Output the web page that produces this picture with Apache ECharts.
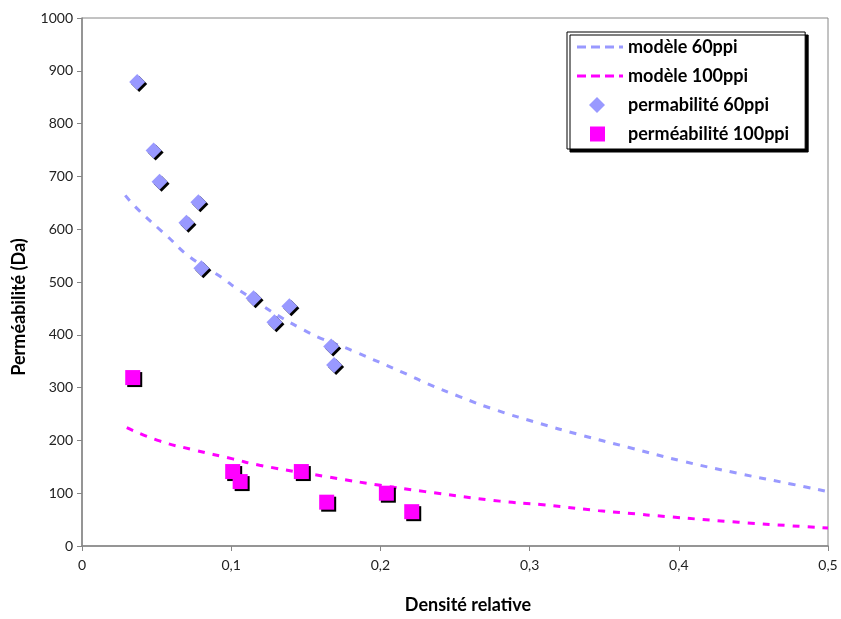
<!DOCTYPE html>
<html>
<head>
<meta charset="utf-8">
<script src="https://cdn.jsdelivr.net/npm/echarts@6/dist/echarts.min.js"></script>
<style>html,body{margin:0;padding:0;background:#fff}#c{width:841px;height:619px}</style>
</head>
<body>
<div id="c"></div>
<script>
var seriesNames = ['modèle 60ppi', 'modèle 100ppi', 'permabilité 60ppi', 'perméabilité 100ppi'];

var model60X = [0.029, 0.038, 0.057, 0.072, 0.094, 0.104, 0.148, 0.182, 0.218, 0.231, 0.253, 0.277, 0.307, 0.332, 0.366, 0.402, 0.439, 0.476, 0.5];
var model60Y = [664, 636, 587, 548, 508, 487, 410, 369, 325, 308, 283, 258, 232, 212, 187, 161, 138, 117, 103];

var model100X = [0.03, 0.052, 0.075, 0.101, 0.119, 0.171, 0.2, 0.23, 0.28, 0.309, 0.346, 0.366, 0.391, 0.44, 0.5];
var model100Y = [224, 199, 182, 165, 153, 128, 115, 103, 85, 78, 67, 62, 56, 45, 34];

var perm60X = [0.037, 0.048, 0.052, 0.078, 0.070, 0.080, 0.115, 0.139, 0.129, 0.167, 0.169];
var perm60Y = [879, 749, 690, 651, 612, 526, 469, 454, 424, 378, 343];

var perm100X = [0.034, 0.101, 0.106, 0.147, 0.164, 0.204, 0.221];
var perm100Y = [319, 141, 122, 141, 83, 100, 65];

var xTicks = [0, 0.1, 0.2, 0.3, 0.4, 0.5];
var yTicks = [0, 100, 200, 300, 400, 500, 600, 700, 800, 900, 1000];

function pairs(xs, ys) { return xs.map(function (x, i) { return [x, ys[i]]; }); }

var FONT = 'Lato, "Open Sans", sans-serif';
var chart = echarts.init(document.getElementById('c'), null, { renderer: 'canvas' });
var shadow = { opacity: 1, shadowColor: '#000', shadowOffsetX: 2, shadowOffsetY: 2, shadowBlur: 0 };

// legend icons (icon box 46 x 17)
var dashIcon = 'path://M0,0M46,17M0,7h9v3h-9zM14,7h9v3h-9zM28,7h9v3h-9zM42,7h4v3h-4z';
var diamondIcon = 'path://M0,0M46,17M20,0.5L28,8.5L20,16.5L12,8.5z';
var squareIcon = 'path://M0,0M46,17M13,1h15v15h-15z';

chart.setOption({
  animation: false,
  backgroundColor: '#fff',
  textStyle: { fontFamily: FONT },
  grid: { left: 82, right: 13, top: 18, bottom: 72, show: true, borderColor: '#868686', borderWidth: 1 },
  legend: {
    data: [
      { name: seriesNames[0], icon: dashIcon, itemStyle: { color: '#9999FF' } },
      { name: seriesNames[1], icon: dashIcon, itemStyle: { color: '#FF00FF' } },
      { name: seriesNames[2], icon: diamondIcon, itemStyle: { color: '#9999FF', opacity: 1, shadowBlur: 0, shadowOffsetX: 0, shadowOffsetY: 0 } },
      { name: seriesNames[3], icon: squareIcon, itemStyle: { color: '#FF00FF', opacity: 1, shadowBlur: 0, shadowOffsetX: 0, shadowOffsetY: 0 } }
    ],
    orient: 'vertical',
    left: 567, top: 32,
    padding: [6, 16, 6, 10],
    itemGap: 11,
    itemWidth: 46, itemHeight: 17,
    backgroundColor: '#fff',
    borderColor: '#000', borderWidth: 1,
    shadowColor: '#000', shadowOffsetX: 3, shadowOffsetY: 3, shadowBlur: 0.01,
    textStyle: { fontFamily: FONT, fontWeight: 'bold', fontSize: 18, color: '#000' }
  },
  xAxis: {
    type: 'value', min: 0, max: 0.5, interval: 0.1,
    name: 'Densité relative', nameLocation: 'middle', nameGap: 50,
    nameTextStyle: { fontFamily: FONT, fontWeight: 'bold', fontSize: 18, color: '#000', padding: [0, 0, 0, 26] },
    axisLine: { lineStyle: { color: '#868686', width: 1.5 } },
    axisTick: { show: true, length: 5, lineStyle: { color: '#868686' } },
    axisLabel: { fontSize: 14, color: '#222', margin: 12, formatter: function (v) { return String(v).replace('.', ','); } },
    splitLine: { show: false }
  },
  yAxis: {
    type: 'value', min: 0, max: 1000, interval: 100,
    name: 'Perméabilité (Da)', nameLocation: 'middle', nameGap: 54, nameRotate: 90,
    nameTextStyle: { fontFamily: FONT, fontWeight: 'bold', fontSize: 18, color: '#000', padding: [0, 50, 0, 0] },
    axisLine: { show: true, lineStyle: { color: '#868686', width: 1.5 } },
    axisTick: { show: true, length: 5, lineStyle: { color: '#868686' } },
    axisLabel: { fontSize: 14, color: '#222', margin: 9, formatter: function (v) { return String(v); } },
    splitLine: { show: false }
  },
  series: [
    {
      name: seriesNames[0], type: 'line', data: pairs(model60X, model60Y), smooth: true,
      showSymbol: false, symbol: 'none', z: 2,
      lineStyle: { color: '#9999FF', width: 3, type: [7, 8] },
      itemStyle: { color: '#9999FF' }
    },
    {
      name: seriesNames[1], type: 'line', data: pairs(model100X, model100Y), smooth: true,
      showSymbol: false, symbol: 'none', z: 2,
      lineStyle: { color: '#FF00FF', width: 3, type: [7, 8] },
      itemStyle: { color: '#FF00FF' }
    },
    {
      name: seriesNames[2], type: 'scatter', data: pairs(perm60X, perm60Y),
      symbol: 'diamond', symbolSize: 16, z: 3,
      itemStyle: Object.assign({ color: '#9999FF' }, shadow)
    },
    {
      name: seriesNames[3], type: 'scatter', data: pairs(perm100X, perm100Y),
      symbol: 'rect', symbolSize: 15, z: 3,
      itemStyle: Object.assign({ color: '#FF00FF' }, shadow)
    }
  ]
});
</script>
</body>
</html>
